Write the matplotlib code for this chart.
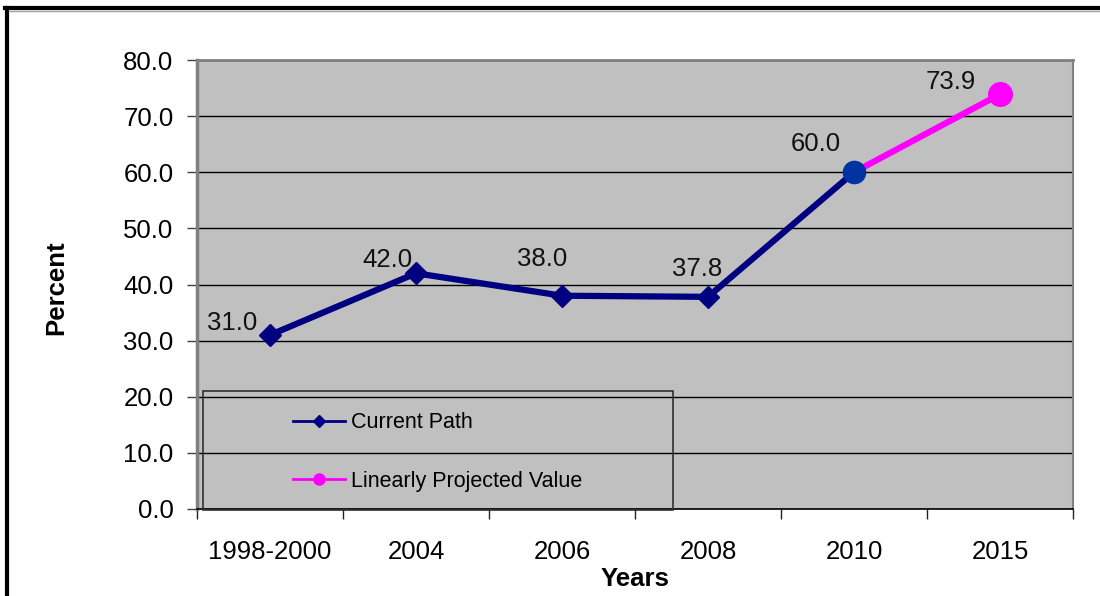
import matplotlib
matplotlib.use('Agg')
import matplotlib.pyplot as plt
from matplotlib.lines import Line2D
from matplotlib.patches import Rectangle

years = ["1998-2000", "2004", "2006", "2008", "2010", "2015"]
current_path = [31.0, 42.0, 38.0, 37.8, 60.0]
projected = [60.0, 73.9]
all_vals = current_path + projected[1:]
# label offsets in pixels (dx, dy) from each point
label_offsets = [(-38, 12), (-29, 13), (-20, 37), (-11, 28), (-38, 28), (-49, 12)]

NAVY = '#000080'
BLUE = '#0033A0'
PINK = '#FF00FF'
plt.rcParams['font.family'] = ['Liberation Sans', 'DejaVu Sans']

fig = plt.figure(figsize=(11, 5.96), dpi=100)
ax = fig.add_axes([197 / 1100, 1 - 509 / 596, 876 / 1100, 449 / 596])
ax.set_facecolor('#C0C0C0')

x_cur = list(range(len(current_path)))
x_proj = [len(current_path) - 1, len(current_path)]

ax.plot(x_proj, projected, color=PINK, lw=4.5, marker='o', ms=17,
        markevery=[1], zorder=3, solid_capstyle='round')
ax.plot(x_cur, current_path, color=NAVY, lw=4.5, marker='D', ms=11,
        markevery=[0, 1, 2, 3], zorder=4)
ax.plot(x_cur[-1:], current_path[-1:], ls='none', marker='o', ms=16,
        color=BLUE, zorder=5)

for i, v in enumerate(all_vals):
    dx, dy = label_offsets[i]
    ax.annotate(f"{v:.1f}", (i, v), xytext=(dx, dy), textcoords='offset pixels',
                ha='center', va='center', fontsize=18.5, color='#111111')

ax.set_xlim(-0.5, len(years) - 0.5)
ax.set_ylim(0, 80)
ax.set_yticks(range(0, 81, 10))
ax.set_yticklabels([f"{t:.1f}" for t in range(0, 81, 10)], fontsize=18.5)
ax.set_xticks(range(len(years)))
ax.set_xticklabels(years, fontsize=18.5)
ax.set_xticks([i - 0.5 for i in range(len(years) + 1)], minor=True)
ax.tick_params(axis='x', which='major', length=0, pad=22)
ax.tick_params(axis='x', which='minor', length=7, width=1, color='#202020')
ax.tick_params(axis='y', length=7, width=1, color='#404040', pad=10)

ax.yaxis.grid(True, color='black', lw=1)
ax.set_axisbelow(True)
for s in ['left', 'top', 'right']:
    ax.spines[s].set_color('#808080')
ax.spines['left'].set_linewidth(2.5)
ax.spines['top'].set_linewidth(2)
ax.spines['right'].set_linewidth(1.5)
ax.spines['bottom'].set_color('black')
ax.spines['bottom'].set_linewidth(1.2)

ax.set_ylabel("Percent", fontsize=18.5, fontweight='bold')
ax.yaxis.set_label_coords(-0.147, 0.494)
ax.set_xlabel("Years", fontsize=18.5, fontweight='bold')
ax.xaxis.set_label_coords(0.5, -0.13)

# legend box overlapping lower-left of the plot
box = Rectangle((6 / 876, -1 / 449), 470 / 876, 119 / 449, transform=ax.transAxes,
                fill=False, edgecolor='#303030', lw=1.2, clip_on=False, zorder=6)
ax.add_patch(box)
handles = [
    Line2D([], [], color=NAVY, lw=2, marker='D', ms=6),
    Line2D([], [], color=PINK, lw=2, marker='o', ms=8),
]
ax.legend(handles, ["Current Path", "Linearly Projected Value"], loc='center left',
          bbox_to_anchor=(0.11, 0.127), frameon=False, fontsize=15.5,
          labelspacing=1.75, handlelength=2.4, handletextpad=0.3,
          borderpad=0, borderaxespad=0)

# outer frame of the figure
fig.add_artist(Line2D([5 / 1100, 1], [1 - 8 / 596, 1 - 8 / 596], color='black', lw=3))
fig.add_artist(Line2D([7 / 1100, 7 / 1100], [0, 1 - 8 / 596], color='black', lw=3))
fig.add_artist(Line2D([9 / 1100, 1], [1 - 11 / 596, 1 - 11 / 596], color='#A0A0A0', lw=1))

fig.savefig("out.png", dpi=100)
